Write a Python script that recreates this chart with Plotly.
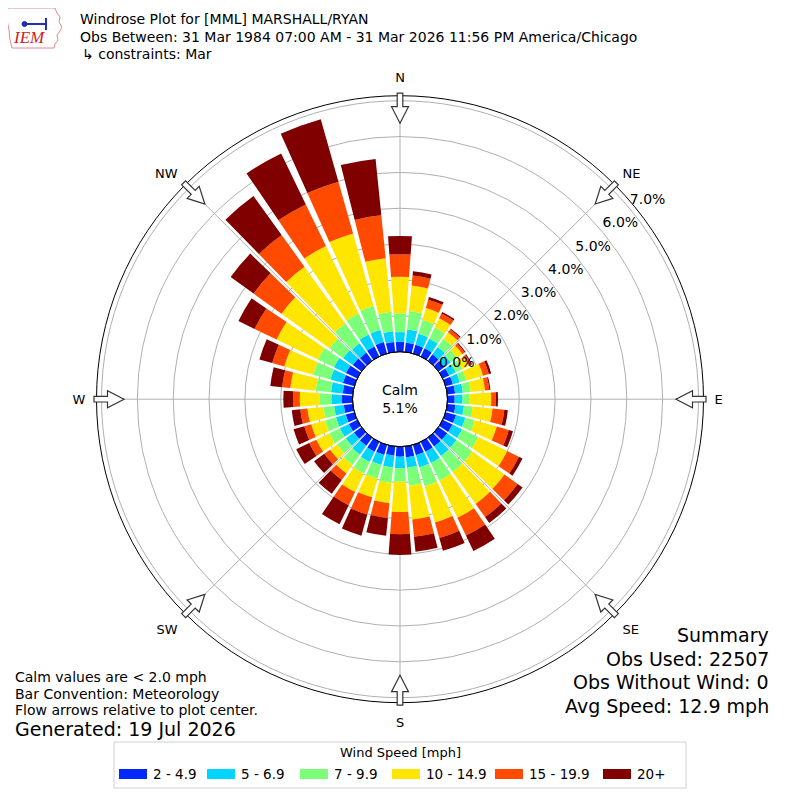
import math
import plotly.graph_objects as go

# wind direction bins (deg, meteorological, centre of 10 deg bin)
directions = [0, 10, 20, 30, 40, 50, 60, 70, 80, 90, 100, 110,
              120, 130, 140, 150, 160, 170, 180, 190, 200, 210, 220, 230,
              240, 250, 260, 270, 280, 290, 300, 310, 320, 330, 340, 350]

speed_bins = ["2 - 4.9", "5 - 6.9", "7 - 9.9", "10 - 14.9", "15 - 19.9", "20+"]
bin_colors = ["#0028ff", "#00d4ff", "#7cff79", "#ffe600", "#ff4a00", "#800000"]

# frequency (%) per direction for each speed bin
spd_2_5 = [.28, .26, .25, .25, .22, .20, .20, .21, .22, .20, .23, .30,
           .30, .30, .30, .30, .30, .30, .28, .26, .29, .30, .28, .26,
           .26, .25, .25, .30, .28, .33, .35, .30, .28, .31, .33, .28]
spd_5_7 = [.27, .37, .32, .30, .25, .22, .20, .20, .22, .22, .24, .27,
           .30, .32, .33, .35, .35, .30, .32, .33, .29, .32, .30, .28,
           .28, .28, .27, .29, .33, .36, .37, .33, .32, .37, .35, .30]
spd_7_10 = [.52, .52, .40, .35, .28, .22, .20, .19, .22, .20, .24, .27,
            .50, .55, .55, .55, .55, .50, .38, .43, .40, .36, .35, .30,
            .33, .32, .30, .32, .43, .50, .50, .47, .68, .65, .70, .55]
spd_10_15 = [1.02, .71, .35, .28, .22, .18, .20, .48, .40, .60, .56, .64,
             .90, 1.10, 1.10, 1.15, 1.05, .95, .84, .57, .54, .57, .30, .24,
             .40, .40, .45, .56, .71, .84, 1.28, 1.65, 1.95, 2.09, 2.10, 1.50]
spd_15_20 = [.63, .28, .24, .15, .10, .08, .08, .17, .12, .13, .33, .35,
             .36, .45, .45, .55, .45, .48, .62, .42, .50, .41, .22, .20,
             .22, .20, .20, .19, .23, .35, .68, .96, 1.09, 1.29, 1.50, 1.20]
spd_20p = [.51, .12, .08, .05, .03, .03, .03, .07, .03, .06, .10, .12,
           .11, .17, .20, .48, .37, .42, .58, .49, .61, .59, .48, .35,
           .40, .31, .24, .27, .33, .37, .50, .79, 1.34, 1.58, 1.81, 1.58]

series = [spd_2_5, spd_5_7, spd_7_10, spd_10_15, spd_15_20, spd_20p]

radial_ticks = [0, 1, 2, 3, 4, 5, 6, 7]
compass_vals = [0, 45, 90, 135, 180, 225, 270, 315]
compass_text = ["N", "NE", "E", "SE", "S", "SW", "W", "NW"]

calm_pct = 5.1
title_lines = ["Windrose Plot for [MML] MARSHALL/RYAN",
               "Obs Between: 31 Mar 1984 07:00 AM - 31 Mar 2026 11:56 PM America/Chicago",
               "\u21b3 constraints: Mar"]
notes = ["Calm values are < 2.0 mph", "Bar Convention: Meteorology",
         "Flow arrows relative to plot center."]
generated = "Generated: 19 Jul 2026"
summary = ["Summary", "Obs Used: 22507", "Obs Without Wind: 0", "Avg Speed: 12.9 mph"]

# the page body has an 8px margin, so work in page pixels and shift
OFF = 8
W = H = 792
CX, CY = 400.0, 399.2      # centre of rose (page pixels)
R_OUT = 303.5               # outer circle radius
R_HOLE = 47.5
R_MAX = 7.14
# tick labels sit on their own (empty) polar, nudged so they land like matplotlib's
LAB_DX, LAB_DY = -2.0, -14.0
LAB_ANGLE = 40.5


def px(x):
    return (x - OFF) / W


def py(y):
    return 1 - (y - OFF) / H


fig = go.Figure()
for vals, name, col in zip(series, speed_bins, bin_colors):
    fig.add_trace(go.Barpolar(
        r=vals, theta=directions, width=8.4, name=name,
        marker=dict(color=col, line=dict(width=0)),
        showlegend=False,
    ))
fig.add_trace(go.Scatterpolar(r=[], theta=[], subplot="polar2", showlegend=False))

shapes = []
annotations = []


def note(text, x, y, size, xanchor="left", **kw):
    annotations.append(dict(text=text, x=px(x), y=py(y), xref="paper", yref="paper",
                            xanchor=xanchor, yanchor="middle", showarrow=False,
                            font=dict(size=size, **kw)))


# hole outline
shapes.append(dict(type="circle", xref="paper", yref="paper",
                   x0=px(CX - R_HOLE), x1=px(CX + R_HOLE),
                   y0=py(CY + R_HOLE), y1=py(CY - R_HOLE),
                   line=dict(color="black", width=1), layer="above"))

# hollow flow arrows at compass points
arrow_local = [(276, 0), (292.5, 8.5), (292.5, 2.8), (306, 2.8),
               (306, -2.8), (292.5, -2.8), (292.5, -8.5)]
for a in compass_vals:
    t = math.radians(a)
    pts = []
    for along, across in arrow_local:
        dx = along * math.sin(t) + across * math.cos(t)
        dy = along * math.cos(t) - across * math.sin(t)
        pts.append("%.5f,%.5f" % (px(CX + dx), py(CY - dy)))
    shapes.append(dict(type="path", xref="paper", yref="paper",
                       path="M " + " L ".join(pts) + " Z",
                       fillcolor="white", line=dict(color="#333333", width=1.2),
                       layer="above"))

note("Calm<br>%.1f%%" % calm_pct, CX, CY, 14, xanchor="center")

for i, line in enumerate(title_lines):
    note(line, 78 if i < 2 else 80, 19 + 17.5 * i, 14)

for i, line in enumerate(notes):
    note(line, 13, 677 + 16.5 * i, 14)
note(generated, 13, 729, 19)

for i, line in enumerate(summary):
    note(line, 771, 635 + 23.7 * i, 19, xanchor="right")

# legend box drawn by hand
shapes.append(dict(type="rect", xref="paper", yref="paper",
                   x0=px(114), x1=px(686), y0=py(788), y1=py(742),
                   line=dict(color="#d0d0d0", width=1), fillcolor="white", layer="below"))
note("Wind Speed [mph]", 400, 752, 13, xanchor="center")
legend_x = [119, 207, 300, 392, 495, 603]
for x0, name, col in zip(legend_x, speed_bins, bin_colors):
    shapes.append(dict(type="rect", xref="paper", yref="paper",
                       x0=px(x0), x1=px(x0 + 28), y0=py(779), y1=py(769),
                       line=dict(width=0), fillcolor=col))
    note(name, x0 + 32, 774, 13.5)

# rough IEM logo (Iowa outline, station glyph, red lettering)
iowa = [(8, 8), (55, 8), (57, 13), (60, 17), (59, 22), (62, 27), (60, 31),
        (57, 35), (58, 40), (55, 44), (54, 48), (12, 48), (10, 40), (9, 30),
        (7, 20), (6, 13)]
shapes.append(dict(type="path", xref="paper", yref="paper",
                   path="M " + " L ".join("%.5f,%.5f" % (px(a), py(b)) for a, b in iowa) + " Z",
                   line=dict(color="#e28a8a", width=1), fillcolor="white"))
shapes.append(dict(type="line", xref="paper", yref="paper", x0=px(26), x1=px(46),
                   y0=py(24), y1=py(24), line=dict(color="#2030b0", width=2)))
shapes.append(dict(type="line", xref="paper", yref="paper", x0=px(46), x1=px(46),
                   y0=py(18), y1=py(30), line=dict(color="#2030b0", width=2)))
shapes.append(dict(type="circle", xref="paper", yref="paper", x0=px(22), x1=px(27),
                   y0=py(26.5), y1=py(21.5), line=dict(color="#2030b0", width=1),
                   fillcolor="#2030b0"))
note("<i>IEM</i>", 29, 38, 17, xanchor="center", color="#cc2222",
     family="Liberation Serif")

tick_text = ["%.1f%%" % v for v in radial_ticks]

fig.update_layout(
    width=W, height=H,
    margin=dict(l=0, r=0, t=0, b=0),
    paper_bgcolor="white",
    font=dict(family="DejaVu Sans", color="black"),
    showlegend=False,
    polar=dict(
        domain=dict(x=[px(CX - R_OUT), px(CX + R_OUT)],
                    y=[py(CY + R_OUT), py(CY - R_OUT)]),
        hole=R_HOLE / R_OUT,
        bgcolor="white",
        barmode="stack",
        radialaxis=dict(range=[0, R_MAX], tickvals=radial_ticks,
                        showticklabels=False, showline=False, ticks="",
                        gridcolor="#b0b0b0", gridwidth=1),
        angularaxis=dict(rotation=90, direction="clockwise",
                         tickvals=compass_vals, ticktext=compass_text,
                         showline=True, linecolor="black", linewidth=1,
                         gridcolor="#b0b0b0", gridwidth=1,
                         ticks="outside", ticklen=8, tickcolor="rgba(0,0,0,0)",
                         tickfont=dict(size=13)),
    ),
    polar2=dict(
        domain=dict(x=[px(CX + LAB_DX - R_OUT), px(CX + LAB_DX + R_OUT)],
                    y=[py(CY + LAB_DY + R_OUT), py(CY + LAB_DY - R_OUT)]),
        hole=R_HOLE / R_OUT,
        bgcolor="rgba(0,0,0,0)",
        radialaxis=dict(range=[0, R_MAX], tickvals=radial_ticks, ticktext=tick_text,
                        angle=LAB_ANGLE, tickangle=LAB_ANGLE, showline=False,
                        showgrid=False, ticks="", tickfont=dict(size=14)),
        angularaxis=dict(visible=False),
    ),
    shapes=shapes,
    annotations=annotations,
)

fig.write_html("out.html")
